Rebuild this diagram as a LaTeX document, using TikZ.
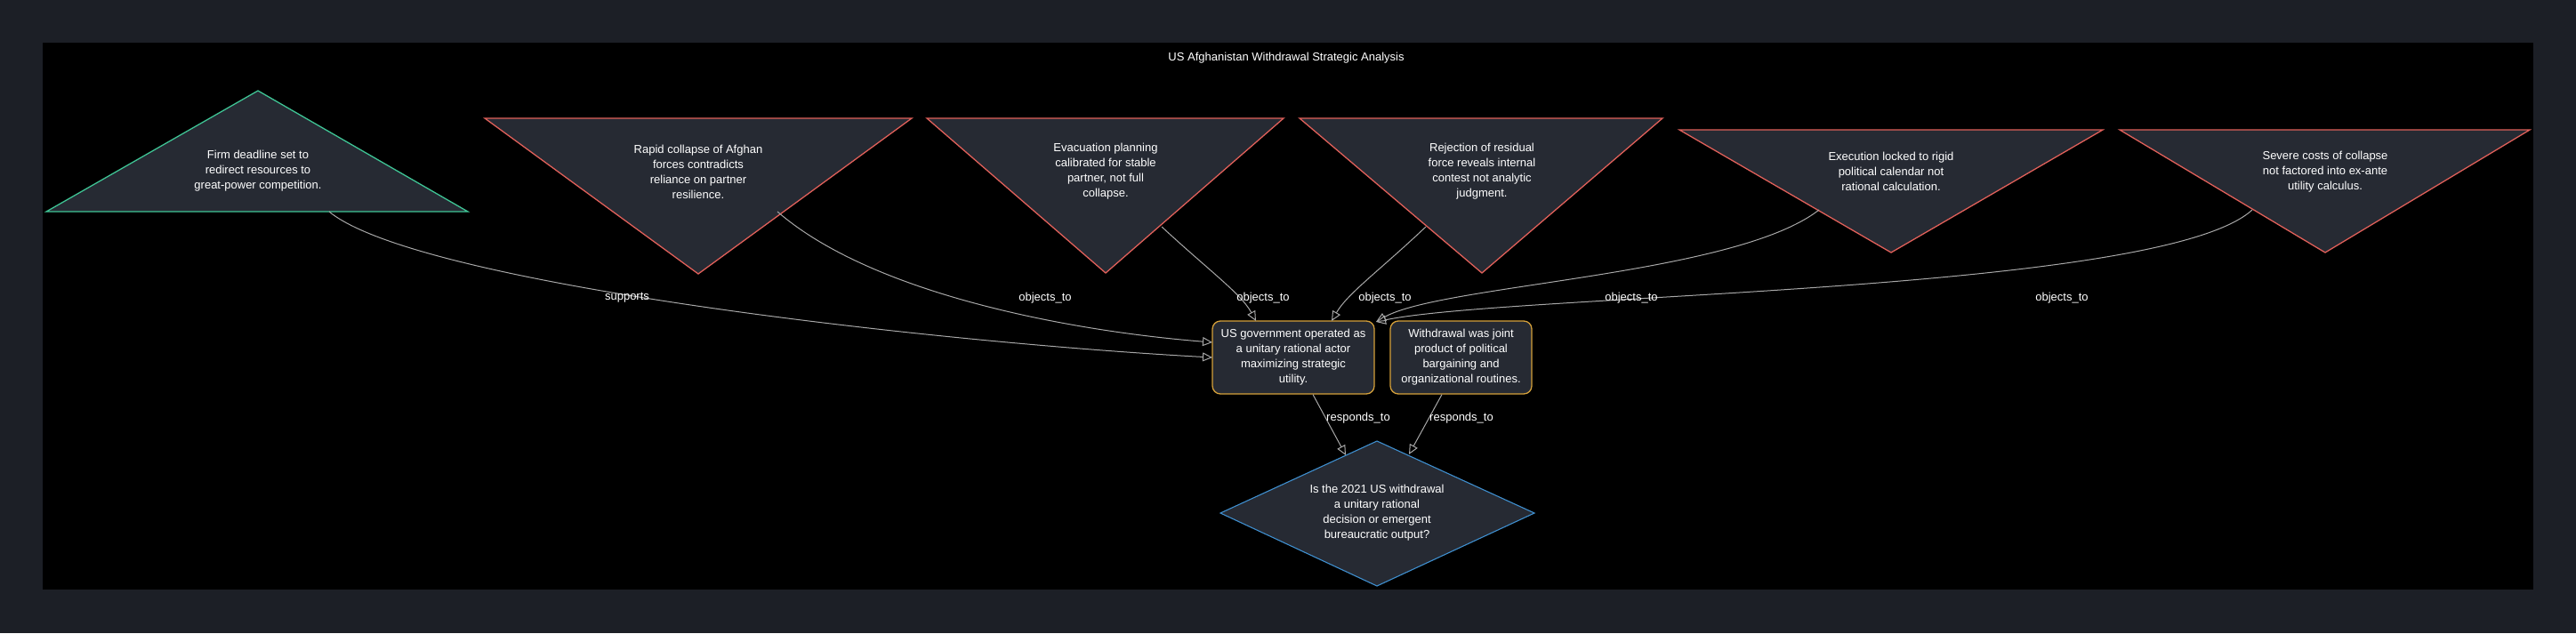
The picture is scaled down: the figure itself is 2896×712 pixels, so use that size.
\documentclass[tikz,border=0pt]{standalone}
\usepackage{fontspec}
\setmainfont{Liberation Sans}
\usetikzlibrary{arrows.meta}
\definecolor{outer}{HTML}{1C1F26}
\definecolor{shapefill}{HTML}{262A33}
\definecolor{grn}{HTML}{3FC495}
\definecolor{rd}{HTML}{E0605A}
\definecolor{org}{HTML}{D4A03A}
\definecolor{blu}{HTML}{3F8FCF}
\definecolor{edge}{HTML}{A8A8A8}
\begin{document}
\begin{tikzpicture}[x=1pt,y=-1pt,
  txt/.style={text=white,align=center,font=\fontsize{13}{17}\selectfont},
  lbl/.style={text=white,font=\fontsize{13}{16}\selectfont},
  tri/.style={fill=shapefill,line width=1.3pt},
  box/.style={draw=org,fill=shapefill,rounded corners=9pt,line width=1.3pt},
  con/.style={draw=edge,line width=1pt,-{Triangle[open,length=11pt,width=10pt]}}]
\useasboundingbox[fill=outer] (0,0) rectangle (2896,712);
\fill[black] (48,48) rectangle (2848,663);
\node[txt] (title) at (1446,65) {US Afghanistan Withdrawal Strategic Analysis};
% triangles
\draw[tri,draw=grn] (290,102) -- (526,238) -- (52,238) -- cycle;
\draw[tri,draw=rd] (545,133) -- (1025,133) -- (785,308) -- cycle;
\draw[tri,draw=rd] (1042,133) -- (1443,133) -- (1243,307) -- cycle;
\draw[tri,draw=rd] (1461,133) -- (1869,133) -- (1666,307) -- cycle;
\draw[tri,draw=rd] (1888,146) -- (2364,146) -- (2126,284) -- cycle;
\draw[tri,draw=rd] (2383,146) -- (2844,146) -- (2614,284) -- cycle;
\node[txt] (t1) at (290,192) {Firm deadline set to\\redirect resources to\\great-power competition.};
\node[txt] (t2) at (785,193) {Rapid collapse of Afghan\\forces contradicts\\reliance on partner\\resilience.};
\node[txt] (t3) at (1243,193) {Evacuation planning\\calibrated for stable\\partner, not full\\collapse.};
\node[txt] (t4) at (1666,193) {Rejection of residual\\force reveals internal\\contest not analytic\\judgment.};
\node[txt] (t5) at (2126,193) {Execution locked to rigid\\political calendar not\\rational calculation.};
\node[txt] (t6) at (2614,193) {Severe costs of collapse\\not factored into ex-ante\\utility calculus.};
% boxes
\node[box,minimum width=182pt,minimum height=82pt,txt] (A) at (1454,402) {US government operated as\\a unitary rational actor\\maximizing strategic\\utility.};
\node[box,minimum width=159pt,minimum height=82pt,txt] (B) at (1642.5,402) {Withdrawal was joint\\product of political\\bargaining and\\organizational routines.};
\draw[fill=shapefill,draw=blu,line width=1.1pt] (1548,496) -- (1725,577) -- (1548,659) -- (1372,577) -- cycle;
\node[txt] (D) at (1548,577) {Is the 2021 US withdrawal\\a unitary rational\\decision or emergent\\bureaucratic output?};
% anchor coordinates
\coordinate (s1) at (370,238);
\coordinate (s2) at (874,238);
\coordinate (s3) at (1306,255);
\coordinate (s4) at (1603,255);
\coordinate (s5) at (2045,236);
\coordinate (s6) at (2532,236);
\coordinate (a1) at (1363,402);
\coordinate (a2) at (1363,385);
\coordinate (a3) at (1412,361);
\coordinate (a4) at (1497,361);
\coordinate (a5) at (1547,362);
\coordinate (d1) at (1513,512);
\coordinate (d2) at (1584,511);
\draw[con] (s1) .. controls (470,320) and (1050,385) .. (a1);
\draw[con] (s2) .. controls (980,330) and (1200,372) .. (a2);
\draw[con] (s3) .. controls (1360,305) and (1395,330) .. (a3);
\draw[con] (s4) .. controls (1550,305) and (1515,330) .. (a4);
\draw[con] (s5) .. controls (1950,310) and (1620,320) .. (a5);
\draw[con] (s6) .. controls (2430,330) and (1700,330) .. (a5);
\draw[con] (A.south -| 1476,0) ++(0,0) coordinate (ab) (ab) -- (d1);
\draw[con] (B.south -| 1621,0) coordinate (bb) (bb) -- (d2);
% labels
\node[lbl] (l1) at (705,335) {supports};
\node[lbl] (l2) at (1175,335) {objects\_to};
\node[lbl] (l3) at (1420,335) {objects\_to};
\node[lbl] (l4) at (1557,335) {objects\_to};
\node[lbl] (l5) at (1834,335) {objects\_to};
\node[lbl] (l6) at (2318,335) {objects\_to};
\node[lbl] (l7) at (1527,470) {responds\_to};
\node[lbl] (l8) at (1643,470) {responds\_to};
\end{tikzpicture}
\end{document}
